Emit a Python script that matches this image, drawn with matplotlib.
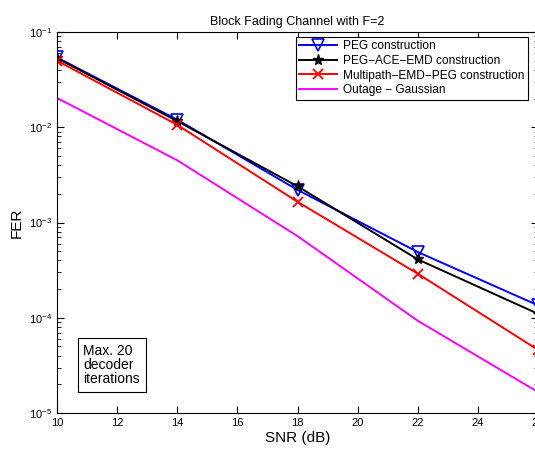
import matplotlib
matplotlib.use("Agg")
import matplotlib.pyplot as plt
from matplotlib.ticker import LogLocator, NullFormatter

plt.rcParams['font.family'] = ['Liberation Sans', 'DejaVu Sans']

snr = [10, 14, 18, 22, 26]
fer_peg = [0.054, 0.012, 0.0022, 4.9e-4, 1.35e-4]
fer_ace = [0.053, 0.0116, 0.0024, 4.1e-4, 1.1e-4]
fer_multipath = [0.050, 0.0106, 0.00165, 2.9e-4, 4.6e-5]
fer_outage = [0.0203, 0.0045, 7.2e-4, 9.3e-5, 1.66e-5]

labels = ["PEG construction", "PEG\u2212ACE\u2212EMD construction",
          "Multipath\u2212EMD\u2212PEG construction", "Outage \u2212 Gaussian"]
x_ticks = [10, 12, 14, 16, 18, 20, 22, 24, 26]

fig = plt.figure(figsize=(5.35, 4.54), dpi=100)
ax = fig.add_axes([57 / 535, 1 - 413 / 454, 481 / 535, 381 / 454])

ax.semilogy(snr, fer_peg, color="blue", lw=1.4, marker="v", ms=8,
            mfc="none", mew=1.2, label=labels[0])
ax.semilogy(snr, fer_ace, color="black", lw=1.4, marker="*", ms=8,
            label=labels[1])
ax.semilogy(snr, fer_multipath, color="red", lw=1.4, marker="x", ms=7,
            mew=1.3, label=labels[2])
ax.semilogy(snr, fer_outage, color="magenta", lw=1.4, label=labels[3])

ax.set_xlim(10, 26)
ax.set_ylim(1e-5, 1e-1)
ax.set_xticks(x_ticks)
ax.yaxis.set_minor_locator(LogLocator(base=10, subs=range(2, 10)))
ax.yaxis.set_minor_formatter(NullFormatter())
ax.tick_params(which="both", direction="in", top=True, right=True, labelsize=8)
ax.tick_params(which="major", length=5)
ax.tick_params(which="minor", length=3)

ax.set_xlabel("SNR (dB)", fontsize=11, labelpad=2)
ax.set_ylabel("FER", fontsize=11)
ax.set_title("Block Fading Channel with F=2", fontsize=9, pad=5)

leg = ax.legend(loc="upper right", fontsize=8.6, handlelength=3.2,
                fancybox=False, framealpha=1, edgecolor="black",
                borderaxespad=0.4, labelspacing=0.22, borderpad=0.3,
                handletextpad=0.5, bbox_to_anchor=(0.99, 1.0))
leg.get_frame().set_linewidth(0.8)

ax.text(0.055, 0.126, "Max. 20\ndecoder\niterations", transform=ax.transAxes,
        fontsize=10, va="center", ha="left", linespacing=1.0,
        bbox=dict(boxstyle="square,pad=0.4", fc="white", ec="black", lw=0.8))

fig.savefig("out.png", dpi=100)
